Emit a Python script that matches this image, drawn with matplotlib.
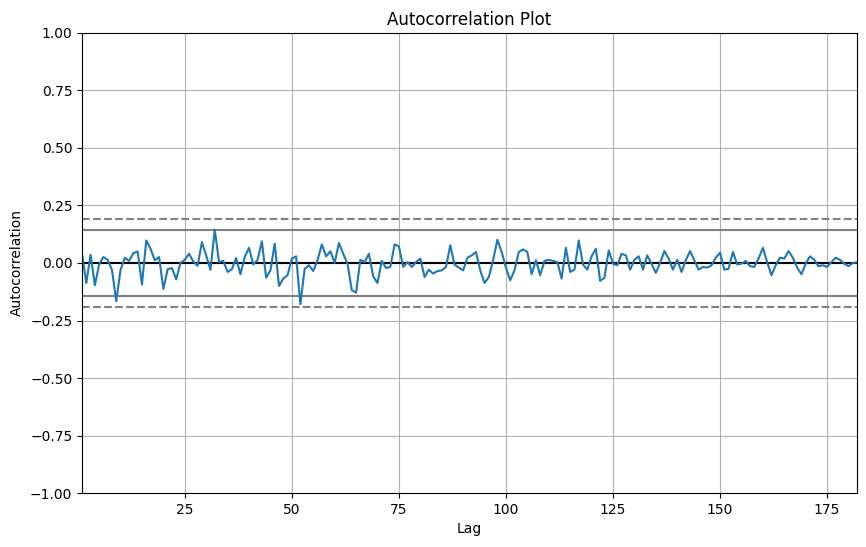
"""
autocorrelation plot recreated with plain matplotlib
mirrors the pandas autocorrelation_plot look
"""

import numpy as np
import matplotlib.pyplot as plt

# autocorrelation values, lag 1..182
acf_lags_1_60 = [
    0.04, -0.087, 0.036, -0.097, -0.006, 0.026, 0.014, -0.03, -0.166, -0.03,
    0.023, 0.009, 0.043, 0.05, -0.094, 0.098, 0.062, 0.012, 0.026, -0.113,
    -0.027, -0.022, -0.071, 0.0, 0.014, 0.04, 0.006, -0.012, 0.091, 0.033,
    -0.03, 0.145, 0.004, 0.009, -0.039, -0.027, 0.022, -0.049, 0.026, 0.066,
    -0.007, 0.014, 0.094, -0.064, -0.032, 0.084, -0.1, -0.068, -0.053, 0.019,
    0.029, -0.179, -0.025, -0.01, -0.035, 0.012, 0.081, 0.029, 0.051, 0.0,
]
acf_lags_61_120 = [
    0.087, 0.04, -0.003, -0.118, -0.129, 0.014, 0.004, 0.04, -0.058, -0.087,
    0.009, -0.022, -0.017, 0.081, 0.072, -0.017, 0.004, -0.017, 0.004, 0.019,
    -0.061, -0.029, -0.046, -0.035, -0.032, -0.017, 0.077, -0.007, -0.02, -0.032,
    0.023, 0.033, 0.048, -0.032, -0.087, -0.061, 0.012, 0.101, 0.048, -0.02,
    -0.075, -0.032, 0.048, 0.059, 0.048, -0.049, 0.012, -0.053, 0.009, 0.014,
    0.009, 0.004, -0.068, 0.066, -0.039, -0.029, 0.098, -0.007, -0.029, 0.029,
]
acf_lags_121_182 = [
    0.062, -0.078, -0.064, 0.055, -0.003, -0.01, 0.04, 0.033, -0.029, 0.014,
    0.029, -0.029, 0.033, -0.003, -0.043, 0.0, 0.052, 0.019, -0.029, 0.014,
    -0.039, 0.012, 0.052, 0.012, -0.029, -0.017, -0.02, -0.01, 0.023, 0.045,
    -0.029, -0.025, 0.048, -0.006, -0.003, 0.009, -0.014, -0.017, 0.02, 0.066,
    0.004, -0.053, -0.01, 0.023, 0.019, 0.052, 0.023, -0.02, -0.049, -0.003,
    0.029, 0.014, -0.014, -0.01, -0.017, 0.004, 0.023, 0.014, -0.003, -0.014,
    0.0, 0.003,
]

acf = np.array(acf_lags_1_60 + acf_lags_61_120 + acf_lags_121_182)
n = len(acf)
lags = np.arange(n) + 1

# same confidence bands pandas draws
z95 = 1.959963984540054
z99 = 2.5758293035489004

fig = plt.figure(figsize=(8.66, 5.47), dpi=100)
ax = fig.add_axes([0.0947, 0.0987, 0.895, 0.841])

ax.set_xlim(1, n)
ax.set_ylim(-1.0, 1.0)
ax.axhline(y=z99 / np.sqrt(n), linestyle="--", color="grey")
ax.axhline(y=z95 / np.sqrt(n), color="grey")
ax.axhline(y=0.0, color="black")
ax.axhline(y=-z95 / np.sqrt(n), color="grey")
ax.axhline(y=-z99 / np.sqrt(n), linestyle="--", color="grey")
ax.plot(lags, acf)
ax.set_xlabel("Lag")
ax.set_ylabel("Autocorrelation")
ax.set_title("Autocorrelation Plot")
ax.grid()

fig.savefig("out.png", dpi=100)
